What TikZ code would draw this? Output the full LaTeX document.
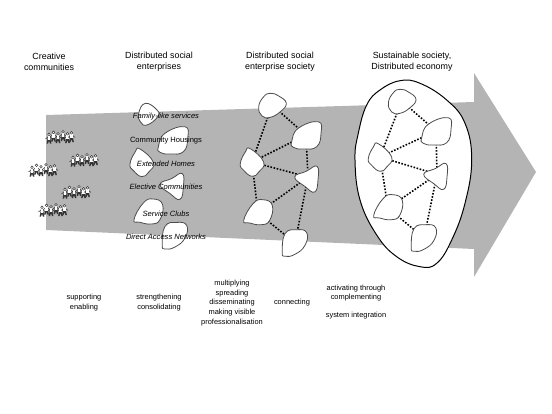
\documentclass[tikz,border=0pt]{standalone}
\usepackage{fontspec}
\setmainfont{Liberation Sans}
\usepackage{xcolor}
\definecolor{flowgray}{RGB}{180, 180, 180}
\usepackage{tikz}
\newcommand{\bloboutline}[1]{\draw[blobline] plot[smooth cycle, tension=0.8] coordinates {#1};}
\tikzset{
    blobline/.style={draw=black!70, fill=white, line width=0.6pt, line join=round},
    bloba/.pic={\bloboutline{(-13.3,1.7) (-8.3,-8.3) (-1.7,-11.7) (6.7,-9) (14.3,-1.7) (8.3,6.7) (-1.7,12.3) (-10,11)}},
    blobaa/.pic={\bloboutline{(-8.3,-0.7) (-1.7,-10.7) (10,-4) (10.7,2.7) (0,11) (-6.7,7.7)}},
    blobb/.pic={\bloboutline{(-14.3,6.7) (-7.7,-6.7) (12.3,-13.3) (15,-1.7) (10.7,11.7) (-2.7,14) (-12.7,12.3)}},
    blobc/.pic={\bloboutline{(-11.7,1.7) (-6.7,-10) (-1.7,-13.3) (11.7,0) (6.7,10) (0,14.3) (-8.3,8.3)}},
    blobd/.pic={\bloboutline{(-13.3,0) (-1.7,-5.7) (9,-10.7) (10,2.7) (6.7,15) (-3.3,9.3)}},
    blobe/.pic={\bloboutline{(-14.3,7.3) (-5,-9.3) (5,-13.3) (14.3,-7.7) (11.7,7.3) (3.3,11.7) (-8.3,10)}},
    blobf/.pic={\bloboutline{(-12.7,9) (-10,-9.3) (1.7,-13.3) (11.7,-10.3) (10,2.3) (0,11.3) (-10,13.3)}},
    crowd/.pic={
        \foreach \px/\py in {-11/1.5, -6.5/-0.5, -2/1, 3/-1, 7.5/1, 11.5/0}{
            \fill[black!80] (\px-2.4,\py+6) -- (\px-1.2,\py) -- (\px+1.2,\py) -- (\px+2.4,\py+6) -- (\px+1,\py+6) -- (\px,\py+3) -- (\px-1,\py+6) -- cycle;
            \draw[black!80, line width=0.4pt] (\px-3.4,\py+1.5) -- (\px,\py-1.8) -- (\px+3.4,\py+1.5);
            \fill[white] (\px-1.3,\py-2) rectangle (\px+1.3,\py+2);
            \draw[black!80, fill=white, line width=0.3pt] (\px,\py-3.2) circle (1.3);
        }
    }
}
\begin{document}
\begin{tikzpicture}[x=0.75bp, y=-0.75bp,
        flow/.style={fill=flowgray, draw=none},
        link/.style={draw=black, line width=1.2pt, dash pattern=on 1.2pt off 1.2pt},
        stage/.style={align=center, font=\fontsize{6.7}{8.2}\selectfont},
        remark/.style={align=center, font=\fontsize{5.6}{7.3}\selectfont},
        venture/.style={font=\fontsize{5.7}{7}\selectfont\itshape, inner sep=0pt}]

    \useasboundingbox (0,0) rectangle (552,414);

    % big arrow
    \fill[flow] (46,115) -- (474,102) -- (474,73) -- (536,172) -- (474,277) -- (474,249) -- (46,230) -- cycle;

    % people
    \pic at (60,136) {crowd};
    \pic at (84,159) {crowd};
    \pic at (43,169) {crowd};
    \pic at (76,191) {crowd};
    \pic at (53,209) {crowd};

    % enterprises
    \pic at (147,114) {blobaa};
    \pic at (172.7,140) {blobb};
    \pic at (141.7,162.3) {blobc};
    \pic at (173.3,184.3) {blobd};
    \pic at (148.3,212.3) {blobe};
    \pic at (175,235.7) {blobf};

    \node [venture] (family) at (166,117) {Family-like services};
    \node [venture, font=\fontsize{5.7}{7}\selectfont] (housing) at (166,141) {Community Housings};
    \node [venture] (homes) at (166,164) {Extended Homes};
    \node [venture] (elective) at (166,187) {Elective Communities};
    \node [venture] (clubs) at (166,214) {Service Clubs};
    \node [venture] (access) at (166,237) {Direct Access Networks};

    % society
    \coordinate (soca) at (272,105);
    \coordinate (socb) at (306,135);
    \coordinate (socc) at (252,162);
    \coordinate (socd) at (308,177);
    \coordinate (soce) at (258,213);
    \coordinate (socf) at (295,243);

    \path [link] (soca) -- (socb);
    \path [link] (soca) -- (socc);
    \path [link] (socb) -- (socc);
    \path [link] (socb) -- (socd);
    \path [link] (socc) -- (socd);
    \path [link] (socc) -- (soce);
    \path [link] (socd) -- (soce);
    \path [link] (socd) -- (socf);
    \path [link] (soce) -- (socf);

    \pic at (soca) {bloba};
    \pic at (socb) {blobb};
    \pic at (socc) {blobc};
    \pic at (socd) {blobd};
    \pic at (soce) {blobe};
    \pic at (socf) {blobf};

    % economy
    \draw[black, fill=white, line width=0.75pt] plot[smooth cycle, tension=0.7] coordinates {(355,160) (358.3,133.3) (366.7,105) (380,90) (400,80.7) (420,83.3) (446.7,100) (465,123.3) (471.7,160) (465,203.3) (451.7,240) (436.7,263.3) (420,266.7) (396.7,256.7) (376.7,235) (360,200)};

    \coordinate (ecoa) at (401.7,101);
    \coordinate (ecob) at (436,131);
    \coordinate (ecoc) at (380,157);
    \coordinate (ecod) at (437,174.3);
    \coordinate (ecoe) at (388,208);
    \coordinate (ecof) at (424,238);

    \path [link] (ecoa) -- (ecob);
    \path [link] (ecoa) -- (ecoc);
    \path [link] (ecob) -- (ecoc);
    \path [link] (ecob) -- (ecod);
    \path [link] (ecoc) -- (ecod);
    \path [link] (ecoc) -- (ecoe);
    \path [link] (ecod) -- (ecoe);
    \path [link] (ecod) -- (ecof);
    \path [link] (ecoe) -- (ecof);

    \pic at (ecoa) {bloba};
    \pic at (ecob) {blobb};
    \pic at (ecoc) {blobc};
    \pic at (ecod) {blobd};
    \pic at (ecoe) {blobe};
    \pic at (ecof) {blobf};

    % headings
    \node [stage] (creative) at (49,61.5) {Creative\\communities};
    \node [stage] (distributed) at (159,61.5) {Distributed social\\enterprises};
    \node [stage] (society) at (280,61.5) {Distributed social\\enterprise society};
    \node [stage] (sustainable) at (412,61.5) {Sustainable society,\\Distributed economy};

    % bottom row
    \node [remark] (supporting) at (84,302.5) {supporting\\enabling};
    \node [remark] (strengthening) at (159,302.5) {strengthening\\consolidating};
    \node [remark] (multiplying) at (232,303) {multiplying\\spreading\\disseminating\\making visible\\professionalisation};
    \node [remark] (connecting) at (292,302.5) {connecting};
    \node [remark] (activating) at (356,293) {activating through\\complementing};
    \node [remark] (integration) at (356,316) {system integration};
\end{tikzpicture}
\end{document}
